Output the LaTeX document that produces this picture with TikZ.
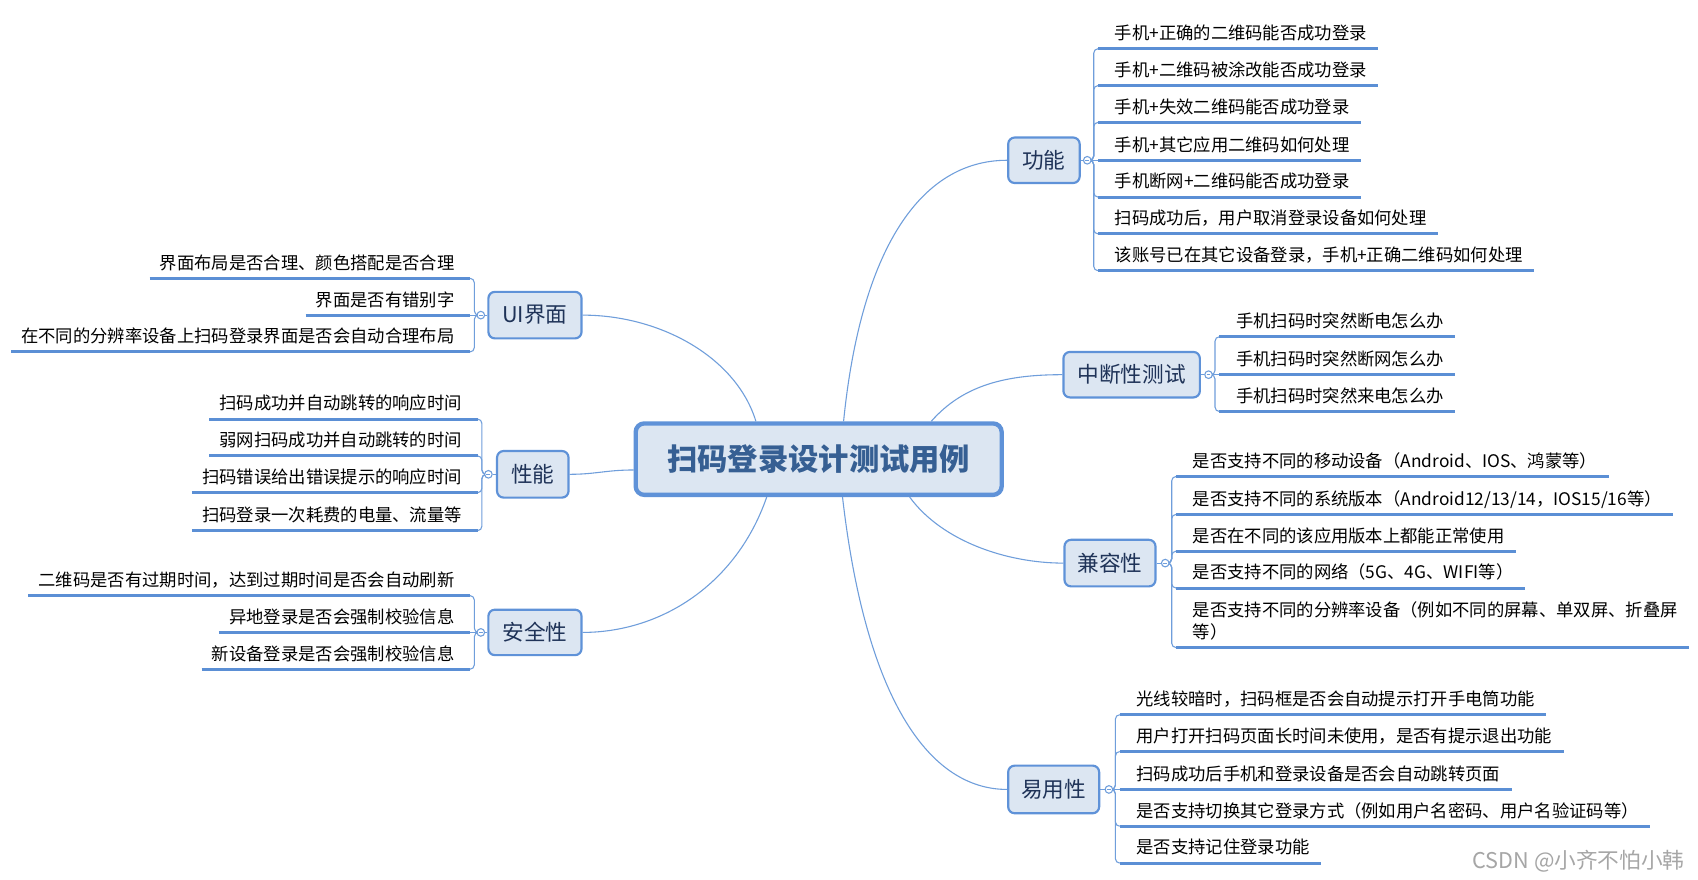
\documentclass[tikz,border=0pt]{standalone}
\usepackage{fontspec}
\setmainfont{Noto Sans CJK SC}
\usetikzlibrary{calc}
\pgfdeclarelayer{back}
\pgfdeclarelayer{bg}
\pgfsetlayers{back,bg,main}
\definecolor{lnk}{HTML}{6F9EDB}
\definecolor{uln}{HTML}{5B8FD5}
\definecolor{boxfill}{HTML}{DCE6F2}
\definecolor{boxline}{HTML}{5F92D8}
\definecolor{brtext}{HTML}{1F3358}
\definecolor{cttext}{HTML}{365F93}
\definecolor{wm}{HTML}{A6A6A6}
\tikzset{
  conn/.style={draw=lnk, line width=0.5pt},
  uline/.style={draw=uln, line width=1.4pt},
  rleaf/.style={anchor=south west, inner sep=0pt, text depth=4pt, font=\fontsize{8pt}{10pt}\selectfont, text=black},
  lleaf/.style={rleaf, anchor=south east},
  branch/.style={draw=boxline, fill=boxfill, line width=1pt, rounded corners=3pt, text=brtext, font=\fontsize{10pt}{12pt}\selectfont, inner sep=0pt},
  hub/.style={circle, draw=lnk, fill=white, line width=0.5pt, minimum size=3.5pt, inner sep=0pt,
    path picture={\draw[lnk, line width=0.4pt] ([xshift=-0.9pt]path picture bounding box.center) -- ([xshift=0.9pt]path picture bounding box.center);}},
}
\newcommand\RLeaf[5]{%
  \node[rleaf] (#1) at (#3,#4) {\hspace*{7.5pt}#5\hspace*{5pt}};
  \draw[uline] (#1.south west) -- (#1.south east);
  \begin{pgfonlayer}{bg}\draw[conn, rounded corners=2pt] (#2.center) -- ++(6,0) |- (#1.south west);\end{pgfonlayer}}
\newcommand\RLeafS[5]{%
  \node[rleaf] (#1) at (#3,#4) {\hspace*{7.5pt}#5\hspace*{5pt}};
  \draw[uline] (#1.south west) -- (#1.south east);
  \begin{pgfonlayer}{bg}\draw[conn] (#2.center) -- (#1.south west);\end{pgfonlayer}}
\newcommand\LLeaf[5]{%
  \node[lleaf] (#1) at (#3,#4) {\hspace*{4.5pt}#5\hspace*{7pt}};
  \draw[uline] (#1.south west) -- (#1.south east);
  \begin{pgfonlayer}{bg}\draw[conn, rounded corners=2pt] (#2.center) -- ++(-6,0) |- (#1.south east);\end{pgfonlayer}}
\newcommand\LLeafS[5]{%
  \node[lleaf] (#1) at (#3,#4) {\hspace*{4.5pt}#5\hspace*{7pt}};
  \draw[uline] (#1.south west) -- (#1.south east);
  \begin{pgfonlayer}{bg}\draw[conn] (#2.center) -- (#1.south east);\end{pgfonlayer}}

\begin{document}
\begin{tikzpicture}[x=0.5pt,y=-0.5pt]
\useasboundingbox (0,0) rectangle (1568,812);
\begin{pgfonlayer}{back}\fill[white] (0,0) rectangle (1568,812);\end{pgfonlayer}

% central topic
\node[draw=boxline, line width=2pt, fill=boxfill, rounded corners=4pt, minimum width=169pt, minimum height=33pt, inner sep=0pt, text=cttext, font=\fontsize{14pt}{16pt}\selectfont\bfseries] (C) at (756,424) {扫码登录设计测试用例};

% branches
\node[branch, minimum width=33pt, minimum height=21pt] (gn) at (964,148) {功能};
\node[branch, minimum width=43pt, minimum height=21.5pt] (ui) at (494,291) {UI界面};
\node[branch, minimum width=33pt, minimum height=21.5pt] (xn) at (492,438) {性能};
\node[branch, minimum width=43pt, minimum height=21pt] (aq) at (494,584) {安全性};
\node[branch, minimum width=63pt, minimum height=21pt] (zd) at (1045,346) {中断性测试};
\node[branch, minimum width=42pt, minimum height=21.5pt] (jr) at (1025,520) {兼容性};
\node[branch, minimum width=42pt, minimum height=22pt] (yy) at (973,729) {易用性};

% hubs
\node[hub] (gnc) at (1004,148) {};
\node[hub] (uic) at (444,291) {};
\node[hub] (xnc) at (451,438) {};
\node[hub] (aqc) at (444,584) {};
\node[hub] (zdc) at (1116,346) {};
\node[hub] (jrc) at (1076,520) {};
\node[hub] (yyc) at (1024,729) {};

\begin{pgfonlayer}{bg}
\draw[conn] ($(C.north)+(23,0)$) .. controls (795,230) and (850,148) .. (gn.west);
\draw[conn] ($(C.north)+(-58,0)$) .. controls (680,330) and (610,291) .. (ui.east);
\draw[conn] ($(C.west)+(0,10)$) .. controls (560,434) and (550,438) .. (xn.east);
\draw[conn] ($(C.south)+(-48,0)$) .. controls (680,540) and (610,584) .. (aq.east);
\draw[conn] ($(C.north)+(104,0)$) .. controls (890,355) and (930,346) .. (zd.west);
\draw[conn] ($(C.south)+(84,0)$) .. controls (870,500) and (930,520) .. (jr.west);
\draw[conn] ($(C.south)+(22,0)$) .. controls (800,650) and (860,729) .. (yy.west);
\draw[conn] (gn.east) -- (gnc); \draw[conn] (ui.west) -- (uic);
\draw[conn] (xn.west) -- (xnc); \draw[conn] (aq.west) -- (aqc);
\draw[conn] (zd.east) -- (zdc); \draw[conn] (jr.east) -- (jrc);
\draw[conn] (yy.east) -- (yyc);
\end{pgfonlayer}

% 功能
\RLeaf{f1}{gnc}{1014}{45}{手机+正确的二维码能否成功登录}
\RLeaf{f2}{gnc}{1014}{79}{手机+二维码被涂改能否成功登录}
\RLeaf{f3}{gnc}{1014}{113}{手机+失效二维码能否成功登录}
\RLeafS{f4}{gnc}{1014}{148}{手机+其它应用二维码如何处理}
\RLeaf{f5}{gnc}{1014}{182}{手机断网+二维码能否成功登录}
\RLeaf{f6}{gnc}{1014}{216}{扫码成功后，用户取消登录设备如何处理}
\RLeaf{f7}{gnc}{1014}{250}{该账号已在其它设备登录，手机+正确二维码如何处理}

% 中断性测试
\RLeaf{z1}{zdc}{1126}{311}{手机扫码时突然断电怎么办}
\RLeafS{z2}{zdc}{1126}{346}{手机扫码时突然断网怎么办}
\RLeaf{z3}{zdc}{1126}{380}{手机扫码时突然来电怎么办}

% 兼容性
\RLeaf{j1}{jrc}{1086}{440}{是否支持不同的移动设备（Android、IOS、鸿蒙等）}
\RLeaf{j2}{jrc}{1086}{475}{是否支持不同的系统版本（Android12/13/14，IOS15/16等）}
\RLeaf{j3}{jrc}{1086}{509}{是否在不同的该应用版本上都能正常使用}
\RLeaf{j4}{jrc}{1086}{543}{是否支持不同的网络（5G、4G、WIFI等）}
\node[rleaf] (j5) at (1086,598) {\begin{tabular}[b]{@{}l@{}}\hspace*{7.5pt}是否支持不同的分辨率设备（例如不同的屏幕、单双屏、折叠屏\hspace*{5pt}\\\hspace*{7.5pt}等）\end{tabular}};
\draw[uline] (j5.south west) -- (j5.south east);
\begin{pgfonlayer}{bg}\draw[conn, rounded corners=2pt] (jrc.center) -- ++(6,0) |- (j5.south west);\end{pgfonlayer}

% 易用性
\RLeaf{y1}{yyc}{1034}{660}{光线较暗时，扫码框是否会自动提示打开手电筒功能}
\RLeaf{y2}{yyc}{1034}{694}{用户打开扫码页面长时间未使用，是否有提示退出功能}
\RLeafS{y3}{yyc}{1034}{729}{扫码成功后手机和登录设备是否会自动跳转页面}
\RLeaf{y4}{yyc}{1034}{763}{是否支持切换其它登录方式（例如用户名密码、用户名验证码等）}
\RLeaf{y5}{yyc}{1034}{797}{是否支持记住登录功能}

% UI界面
\LLeaf{u1}{uic}{434}{257}{界面布局是否合理、颜色搭配是否合理}
\LLeafS{u2}{uic}{434}{291}{界面是否有错别字}
\LLeaf{u3}{uic}{434}{325}{在不同的分辨率设备上扫码登录界面是否会自动合理布局}

% 性能
\LLeaf{x1}{xnc}{441}{387}{扫码成功并自动跳转的响应时间}
\LLeaf{x2}{xnc}{441}{421}{弱网扫码成功并自动跳转的时间}
\LLeaf{x3}{xnc}{441}{455}{扫码错误给出错误提示的响应时间}
\LLeaf{x4}{xnc}{441}{490}{扫码登录一次耗费的电量、流量等}

% 安全性
\LLeaf{a1}{aqc}{434}{550}{二维码是否有过期时间，达到过期时间是否会自动刷新}
\LLeafS{a2}{aqc}{434}{584}{异地登录是否会强制校验信息}
\LLeaf{a3}{aqc}{434}{618}{新设备登录是否会强制校验信息}

% watermark
\node[anchor=east, inner sep=0pt, text=wm, font=\fontsize{10pt}{12pt}\selectfont] (wmk) at (1556,795) {CSDN @小齐不怕小韩};
\end{tikzpicture}
\end{document}
